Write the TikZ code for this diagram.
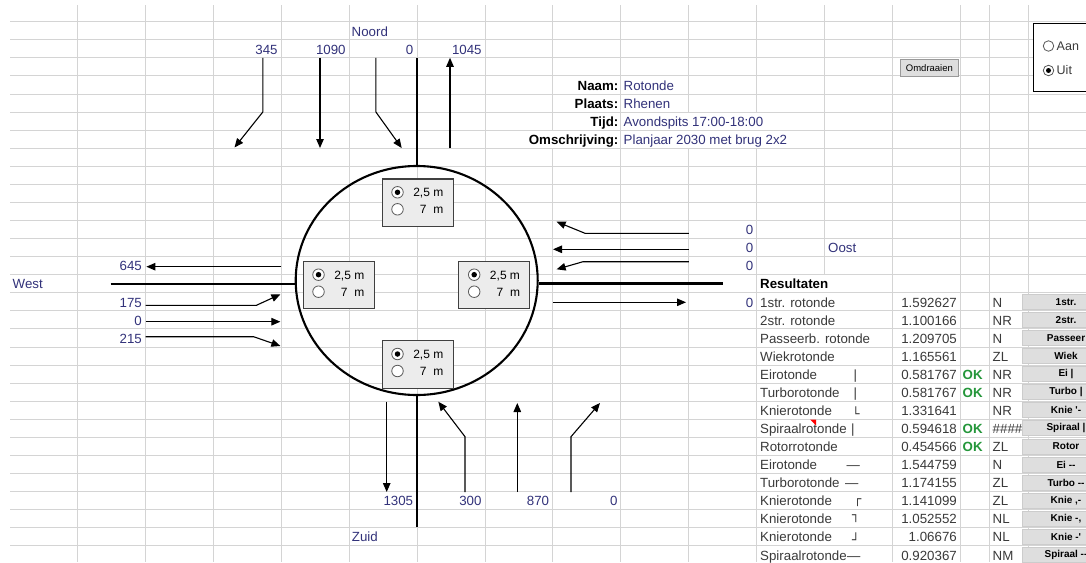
\documentclass[tikz,border=0pt]{standalone}
\usepackage{fontspec}
\setmainfont{Liberation Sans}
\newfontfamily\btnfont{Liberation Sans}
\newfontfamily\linefont{DejaVu Sans}
\usetikzlibrary{arrows.meta,shapes.geometric}
\definecolor{gridgray}{RGB}{212,212,212}
\definecolor{navy}{RGB}{50,50,122}
\definecolor{celltext}{RGB}{58,58,58}
\definecolor{okgreen}{RGB}{36,150,58}
\definecolor{panelgray}{RGB}{236,236,236}
\definecolor{btngray}{RGB}{222,222,222}
\tikzset{
	cell/.style={inner sep=0pt,text height=9.6pt,text depth=0pt,font=\fontsize{13.3}{15}\selectfont,text=celltext},
	val/.style={cell,text=navy},
	lab/.style={cell,text=black,font=\fontsize{13.3}{15}\selectfont\bfseries},
	road/.style={line width=2.4pt},
	flow/.style={line width=1.1pt,-{Triangle[length=9pt,width=7.5pt]}},
	gridline/.style={gridgray,line width=0.9pt},
	panel/.style={rectangle,draw=black!75,fill=panelgray,line width=1.2pt,minimum width=71pt,minimum height=47.5pt,inner sep=0pt},
	radio/.style={circle,draw=black!65,fill=white,line width=0.8pt,minimum size=11.5pt,inner sep=0pt},
	dot/.style={circle,fill=black,minimum size=5.5pt,inner sep=0pt},
	boxtxt/.style={inner sep=0pt,text height=8.6pt,text depth=0pt,font=\fontsize{12}{14}\selectfont},
	teken/.style={inner sep=0pt,text=celltext,font=\linefont\fontsize{12.5}{14}\selectfont},
	tbtn/.style={rectangle,fill=btngray,draw=black!20,line width=0.5pt,minimum width=88pt,minimum height=15pt,inner sep=0pt,font=\btnfont\bfseries\fontsize{10}{12}\selectfont}
}
\begin{document}
\begin{tikzpicture}[x=1pt,y=-1pt,declare function={rowy(\k)=31.2+18.07*(\k-1);}]
	\useasboundingbox[fill=white] (0,0) rectangle (1086,562);
	\foreach \k in {1,...,14}
		\draw[gridline] ({9.5+67.93*\k},5) -- ({9.5+67.93*\k},562);
	\foreach \gx in {989,1028.3}
		\draw[gridline] (\gx,5) -- (\gx,562);
	\fill[white] (551.5,130.6) rectangle (554.5,147.7);
	\fill[white] (687.3,112.6) rectangle (690.3,147.7);
	\fill[white] (755.2,112.6) rectangle (758.2,147.7);
	\fill[white] (823.1,275.1) rectangle (826.1,562);
	\foreach \k in {0,...,29}
		\draw[gridline] (10,{21.7+18.07*\k}) -- (1086,{21.7+18.07*\k});

	\node[ellipse,draw,line width=2.1pt,minimum width=242pt,minimum height=229pt,inner sep=0pt] (rot) at (416.7,280.5){};
	\coordinate (nend) at (416.7,57.8);
	\coordinate (zend) at (416.7,526.7);
	\coordinate (wend) at (110.7,284);
	\coordinate (oend) at (723,283.3);
	\draw[road] (rot.north)--(nend);
	\draw[road] (rot.south)--(zend);
	\draw[road] (wend)--(wend -| rot.west);
	\draw[road] (oend -| rot.east)--(oend);

	\node[val,anchor=west] (noord) at (351.5,{rowy(1)}){Noord};
	\node[val,anchor=west] (zuid) at (351.7,{rowy(29)}){Zuid};
	\node[val,anchor=west] (west) at (12.5,{rowy(15)}){West};
	\node[val,anchor=west] (oost) at (828,{rowy(13)}){Oost};

	\foreach \nx/\nv/\nm in {277.8/345/a,345.8/1090/b,413.5/0/c,481.8/1045/d}
		\node[val,anchor=east] (n\nm) at (\nx,{rowy(2)}){\nv};
	\foreach \nx/\nv/\nm in {413.3/1305/a,481.7/300/b,549.3/870/c,617.7/0/d}
		\node[val,anchor=east] (z\nm) at (\nx,{rowy(27)}){\nv};
	\foreach \nr/\nv/\nm in {14/645/a,16/175/b,17/0/c,18/215/d}
		\node[val,anchor=east] (w\nm) at (142,{rowy(\nr)}){\nv};
	\foreach \nr/\nm in {12/a,13/b,14/c,16/d}
		\node[val,anchor=east] (o\nm) at (753.4,{rowy(\nr)}){0};

	\coordinate (na0) at (262.8,57.8);
	\coordinate (na1) at (262.8,112);
	\coordinate (na2) at (234.5,147.5);
	\coordinate (nb0) at (320,57.8);
	\coordinate (nb1) at (320,148);
	\coordinate (nc0) at (375.9,57.8);
	\coordinate (nc1) at (375.9,112);
	\coordinate (nc2) at (401.7,148);
	\coordinate (nd0) at (450,148.3);
	\coordinate (nd1) at (450,57.8);
	\draw[flow] (na0)--(na1)--(na2);
	\draw[flow] (nb0)--(nb1);
	\draw[flow] (nc0)--(nc1)--(nc2);
	\draw[flow] (nd0)--(nd1);

	\coordinate (za0) at (386.7,401.7);
	\coordinate (za1) at (386.7,492);
	\coordinate (zb0) at (465,492);
	\coordinate (zb1) at (465,436.7);
	\coordinate (zb2) at (438.3,401.7);
	\coordinate (zc0) at (517.3,492);
	\coordinate (zc1) at (517.3,403);
	\coordinate (zd0) at (571,492);
	\coordinate (zd1) at (571,436.7);
	\coordinate (zd2) at (600,403);
	\draw[flow] (za0)--(za1);
	\draw[flow] (zb0)--(zb1)--(zb2);
	\draw[flow] (zc0)--(zc1);
	\draw[flow] (zd0)--(zd1)--(zd2);

	\coordinate (wa0) at (281.4,266.7);
	\coordinate (wa1) at (146.4,266.7);
	\coordinate (wb0) at (145.7,305.3);
	\coordinate (wb1) at (256.4,305.3);
	\coordinate (wb2) at (280.4,294.3);
	\coordinate (wc0) at (145.7,321.7);
	\coordinate (wc1) at (280.4,321.7);
	\coordinate (wd0) at (145.7,336.7);
	\coordinate (wd1) at (253.6,336.7);
	\coordinate (wd2) at (280.4,346);
	\draw[flow] (wa0)--(wa1);
	\draw[flow] (wb0)--(wb1)--(wb2);
	\draw[flow] (wc0)--(wc1);
	\draw[flow] (wd0)--(wd1)--(wd2);

	\coordinate (oa0) at (688.9,233.3);
	\coordinate (oa1) at (585,233.3);
	\coordinate (oa2) at (556.6,221.7);
	\coordinate (ob0) at (688.9,249.3);
	\coordinate (ob1) at (553,249.3);
	\coordinate (oc0) at (688.9,261.7);
	\coordinate (oc1) at (583,261.7);
	\coordinate (oc2) at (556.6,269.3);
	\coordinate (od0) at (553,302.3);
	\coordinate (od1) at (686,302.3);
	\draw[flow] (oa0)--(oa1)--(oa2);
	\draw[flow] (ob0)--(ob1);
	\draw[flow] (oc0)--(oc1)--(oc2);
	\draw[flow] (od0)--(od1);

	\foreach \bx/\by/\nm in {381.5/178.3/n,302.5/260.7/w,458.2/260.7/o,381.5/340/z}{
		\node[panel,anchor=north west] (box\nm) at (\bx,\by){};
		\node[radio] (ra\nm) at ([xshift=16pt,yshift=-14pt]box\nm.north west){};
		\node[dot] (da\nm) at (ra\nm){};
		\node[radio] (rb\nm) at ([xshift=16pt,yshift=-31pt]box\nm.north west){};
		\node[boxtxt,anchor=east] (ta\nm) at ([xshift=62pt,yshift=-14pt]box\nm.north west){2,5 m};
		\node[boxtxt,anchor=east] (tb\nm) at ([xshift=62pt,yshift=-31pt]box\nm.north west){7\ \ m};
	}

	\foreach \l/\v [count=\r from 4] in {Naam/Rotonde,Plaats/Rhenen,Tijd/Avondspits 17:00-18:00,Omschrijving/Planjaar 2030 met brug 2x2}{
		\node[lab,anchor=east] (l\r) at (618.5,{rowy(\r)}){\l:};
		\node[val,anchor=west] (v\r) at (623.5,{rowy(\r)}){\v};
	}

	\node[rectangle,fill=btngray,draw=black!40,line width=0.6pt,minimum width=58.5pt,minimum height=16.5pt,inner sep=0pt,font=\fontsize{9.5}{11}\selectfont] (omdraaien) at (929.4,68){Omdraaien};

	\node[rectangle,draw=black,fill=white,line width=1.1pt,anchor=north west,minimum width=62pt,minimum height=68.5pt] (keuze) at (1032.7,22.5){};
	\node[radio,minimum size=10.5pt] (aan) at (1048.5,46){};
	\node[radio,minimum size=10.5pt] (uit) at (1048.5,70.5){};
	\node[dot,minimum size=5pt] (uitdot) at (uit){};
	\node[inner sep=0pt,anchor=west,font=\fontsize{12.5}{14}\selectfont,text=celltext] (aantxt) at (1056.5,46){Aan};
	\node[inner sep=0pt,anchor=west,font=\fontsize{12.5}{14}\selectfont,text=celltext] (uittxt) at (1056.5,70.5){Uit};

	\node[lab,anchor=west] (res) at (760,{rowy(15)}){Resultaten};
	\foreach \nm/\v/\cd/\bt [count=\i from 16] in {1str. rotonde/1.592627/N/1str.,2str. rotonde/1.100166/NR/2str.,Passeerb. rotonde/1.209705/N/Passeer,Wiekrotonde/1.165561/ZL/Wiek,Eirotonde/0.581767/NR/Ei |,Turborotonde/0.581767/NR/Turbo |,Knierotonde/1.331641/NR/Knie '-,Spiraalrotonde/0.594618/\#\#\#\#/Spiraal |,Rotorrotonde/0.454566/ZL/Rotor,Eirotonde/1.544759/N/Ei --,Turborotonde/1.174155/ZL/Turbo --,Knierotonde/1.141099/ZL/{Knie ,-},Knierotonde/1.052552/NL/{Knie -,},Knierotonde/1.06676/NL/Knie -',Spiraalrotonde/0.920367/NM/Spiraal --}{
		\node[cell,anchor=west] (naam\i) at (760,{rowy(\i)}){\nm};
		\node[cell,anchor=east] (waarde\i) at (957,{rowy(\i)}){\v};
		\node[cell,anchor=west] (code\i) at (992.5,{rowy(\i)}){\cd};
		\node[tbtn] (knop\i) at (1066,{rowy(\i)-0.5}){\bt};
	}
	\foreach \i in {20,21,23,24}
		\node[cell,anchor=west,text=okgreen,font=\fontsize{13.3}{15}\selectfont\bfseries] (ok\i) at (962.5,{rowy(\i)}){OK};
	\foreach \sx/\i in {853.5/20,853.5/21,851/23}
		\node[cell,anchor=west] (teken\i) at (\sx,{rowy(\i)}){|};
	\foreach \sx/\i in {846.5/25,845/26}
		\node[cell,anchor=west] (teken\i) at (\sx,{rowy(\i)}){—};
	\node[cell,anchor=west] (teken30) at (naam30.east){—};
	\node[teken] (teken22) at (855.8,{rowy(22)+1.5}){└};
	\node[teken] (teken27) at (857.5,{rowy(27)+2}){┌};
	\node[teken] (teken28) at (855.8,{rowy(28)-0.5}){┐};
	\node[teken] (teken29) at (855.8,{rowy(29)+1}){┘};
	\fill[red] (810,419.5) -- (816,419.5) -- (816,425.5) -- cycle;
\end{tikzpicture}
\end{document}
